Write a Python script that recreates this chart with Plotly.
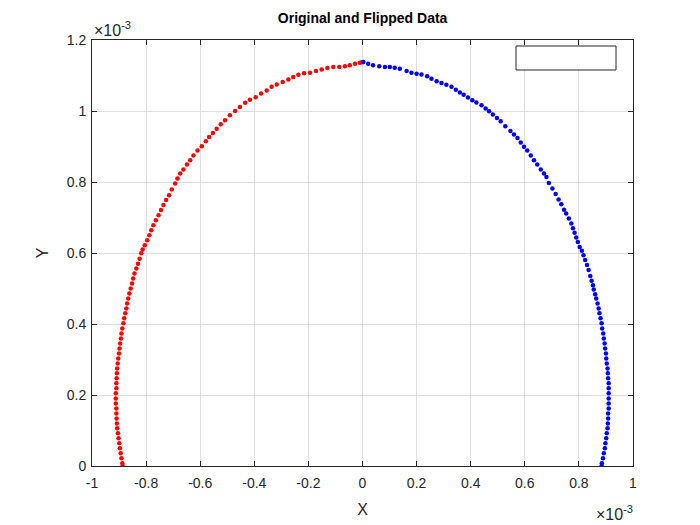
import plotly.graph_objects as go

# values, in units of 1e-3
blue_x = [0.003, 0.021, 0.039, 0.062, 0.083, 0.101, 0.119, 0.138, 0.163, 0.181,
          0.200, 0.218, 0.239, 0.255, 0.274, 0.292, 0.310, 0.329, 0.345, 0.360,
          0.374, 0.390, 0.406, 0.421, 0.440, 0.455, 0.468, 0.482, 0.497, 0.511,
          0.528, 0.547, 0.560, 0.573, 0.585, 0.597, 0.609, 0.622, 0.634, 0.646,
          0.659, 0.671, 0.680, 0.689, 0.702, 0.714, 0.725, 0.735, 0.745, 0.753,
          0.763, 0.772, 0.778, 0.784, 0.790, 0.796, 0.803, 0.811, 0.817, 0.823,
          0.830, 0.836, 0.842, 0.847, 0.852, 0.855, 0.860, 0.864, 0.869, 0.873,
          0.876, 0.880, 0.884, 0.886, 0.890, 0.892, 0.895, 0.897, 0.900, 0.901,
          0.903, 0.906, 0.907, 0.908, 0.910, 0.910, 0.910, 0.910, 0.910, 0.910,
          0.908, 0.908, 0.907, 0.906, 0.903, 0.901, 0.898, 0.896, 0.892, 0.889,
          0.885, 0.884]
blue_y = [1.138, 1.133, 1.129, 1.126, 1.124, 1.124, 1.122, 1.119, 1.113, 1.108,
          1.105, 1.103, 1.098, 1.091, 1.084, 1.079, 1.074, 1.068, 1.060, 1.052,
          1.046, 1.038, 1.030, 1.024, 1.016, 1.007, 0.999, 0.990, 0.980, 0.971,
          0.957, 0.944, 0.934, 0.924, 0.911, 0.899, 0.889, 0.875, 0.861, 0.849,
          0.835, 0.824, 0.814, 0.797, 0.782, 0.766, 0.751, 0.737, 0.722, 0.711,
          0.697, 0.683, 0.670, 0.657, 0.644, 0.631, 0.617, 0.606, 0.594, 0.580,
          0.566, 0.552, 0.535, 0.522, 0.509, 0.497, 0.484, 0.472, 0.458, 0.444,
          0.430, 0.416, 0.402, 0.387, 0.373, 0.359, 0.345, 0.331, 0.317, 0.303,
          0.289, 0.275, 0.261, 0.247, 0.233, 0.219, 0.205, 0.190, 0.176, 0.162,
          0.148, 0.134, 0.120, 0.106, 0.092, 0.078, 0.064, 0.050, 0.036, 0.022,
          0.008, 0.000]

red_x = [-0.003, -0.010, -0.028, -0.047, -0.065, -0.086, -0.108, -0.130, -0.151, -0.172,
         -0.194, -0.216, -0.237, -0.256, -0.274, -0.295, -0.317, -0.336, -0.354, -0.375,
         -0.395, -0.416, -0.434, -0.453, -0.471, -0.490, -0.508, -0.524, -0.539, -0.553,
         -0.567, -0.579, -0.594, -0.610, -0.625, -0.637, -0.649, -0.662, -0.674, -0.684,
         -0.693, -0.705, -0.715, -0.726, -0.736, -0.745, -0.754, -0.764, -0.773,
         -0.781, -0.788, -0.796, -0.805, -0.813, -0.818, -0.824, -0.830, -0.836, -0.843,
         -0.848, -0.852, -0.857, -0.862, -0.866, -0.870, -0.873, -0.877, -0.881, -0.884,
         -0.888, -0.891, -0.893, -0.896, -0.898, -0.900, -0.903, -0.905, -0.907, -0.908,
         -0.909, -0.910, -0.910, -0.912, -0.912, -0.912, -0.910, -0.910, -0.909, -0.908,
         -0.907, -0.904, -0.902, -0.899, -0.897, -0.894, -0.891, -0.888, -0.887]
red_y = [1.137, 1.136, 1.133, 1.129, 1.126, 1.124, 1.124, 1.121, 1.117, 1.113,
         1.108, 1.106, 1.102, 1.096, 1.089, 1.082, 1.075, 1.068, 1.058, 1.049,
         1.039, 1.032, 1.023, 1.011, 1.000, 0.988, 0.974, 0.963, 0.950, 0.938,
         0.927, 0.915, 0.901, 0.889, 0.875, 0.861, 0.849, 0.835, 0.824, 0.810,
         0.796, 0.779, 0.763, 0.749, 0.735, 0.721, 0.706, 0.692, 0.678,
         0.664, 0.650, 0.636, 0.622, 0.610, 0.599, 0.584, 0.570, 0.556, 0.542,
         0.528, 0.514, 0.500, 0.486, 0.472, 0.458, 0.444, 0.430, 0.416, 0.402,
         0.387, 0.373, 0.359, 0.345, 0.331, 0.317, 0.303, 0.289, 0.275, 0.261,
         0.247, 0.233, 0.219, 0.205, 0.190, 0.176, 0.162, 0.148, 0.134, 0.120,
         0.106, 0.092, 0.078, 0.064, 0.050, 0.036, 0.022, 0.008, 0.000]

x_ticks = [-1, -0.8, -0.6, -0.4, -0.2, 0, 0.2, 0.4, 0.6, 0.8, 1]
x_tick_text = ["-1", "-0.8", "-0.6", "-0.4", "-0.2", "0", "0.2", "0.4", "0.6", "0.8", "1"]
y_ticks = [0, 0.2, 0.4, 0.6, 0.8, 1, 1.2]
y_tick_text = ["0", "0.2", "0.4", "0.6", "0.8", "1", "1.2"]

FONT = "Liberation Sans, Arial, sans-serif"
AXCOL = "#262626"

fig = go.Figure()
fig.add_trace(go.Scatter(x=red_x, y=red_y, mode="markers", name="Flipped",
                         marker=dict(color="#ff0000", size=4.5, line=dict(width=0)),
                         showlegend=False))
fig.add_trace(go.Scatter(x=blue_x, y=blue_y, mode="markers", name="Original",
                         marker=dict(color="#0000ff", size=4.5, line=dict(width=0)),
                         showlegend=False))

axis_common = dict(
    showgrid=True, gridcolor="#dedede", gridwidth=1,
    zeroline=False, showline=True, linecolor=AXCOL, linewidth=1,
    mirror="ticks", ticks="inside", ticklen=5, tickcolor=AXCOL,
    tickfont=dict(family=FONT, size=14, color=AXCOL),
    tickmode="array", automargin=False,
)

fig.update_xaxes(range=[-1, 1], tickvals=x_ticks, ticktext=x_tick_text,
                 ticklabelstandoff=4,
                 title=dict(text="X", font=dict(family=FONT, size=16, color=AXCOL), standoff=14),
                 **axis_common)
fig.update_yaxes(range=[0, 1.2], tickvals=y_ticks, ticktext=y_tick_text,
                 ticklabelstandoff=2,
                 title=dict(text="Y", font=dict(family=FONT, size=16, color=AXCOL), standoff=14),
                 **axis_common)

fig.update_layout(
    width=700, height=525,
    margin=dict(l=92, r=67, t=40, b=59, autoexpand=False),
    paper_bgcolor="white", plot_bgcolor="white",
    title=dict(text="<b>Original and Flipped Data</b>", x=0.518, xanchor="center",
               y=0.966, yanchor="middle",
               font=dict(family=FONT, size=14, color="#000000")),
)

# exponent labels
fig.add_annotation(text="\u00d710<sup>-3</sup>", xref="paper", yref="paper", x=0, y=1,
                   xanchor="left", yanchor="bottom", showarrow=False, yshift=-1,
                   font=dict(family=FONT, size=16, color=AXCOL))
fig.add_annotation(text="\u00d710<sup>-3</sup>", xref="paper", yref="paper", x=1, y=0,
                   xanchor="right", yanchor="top", showarrow=False, yshift=-35, xshift=2,
                   font=dict(family=FONT, size=16, color=AXCOL))

# empty legend box
fig.add_shape(type="rect", xref="paper", yref="paper",
              x0=(516 - 92) / 541, x1=(616 - 92) / 541,
              y0=(466 - 70) / 426, y1=(466 - 46) / 426,
              line=dict(color=AXCOL, width=1), fillcolor="white")

fig.write_html("out.html", config={"displayModeBar": False},
               post_script="document.body.style.margin='0px';")
